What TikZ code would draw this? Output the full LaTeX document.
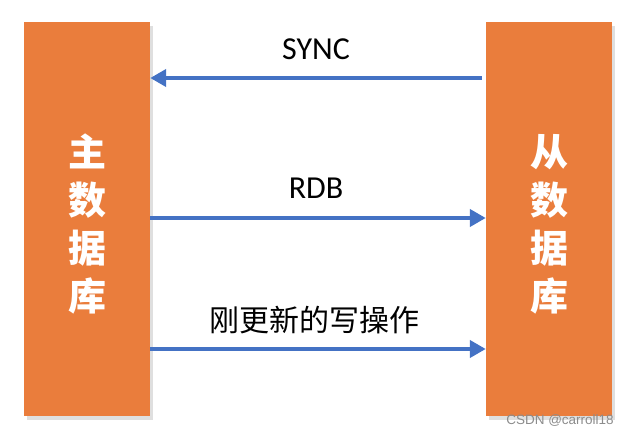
\documentclass[tikz,border=0pt]{standalone}
\usepackage{fontspec}
\setmainfont{Carlito}
\newfontfamily\cjk{Noto Sans CJK SC}
\newfontfamily\wmfont{Liberation Sans}
\usetikzlibrary{positioning,shadows,arrows.meta}
\definecolor{dborange}{RGB}{234,125,60}
\definecolor{linkblue}{RGB}{68,114,196}

\begin{document}
\begin{tikzpicture}[x=1pt,y=-1pt,
							dbbox/.style={fill=dborange, minimum width=126pt, minimum height=394pt, inner sep=0pt,
								drop shadow={shadow xshift=3pt, shadow yshift=-4pt, opacity=0.25}},
							dbtext/.style={text=white, font=\cjk\bfseries\fontsize{38}{48}\selectfont, align=center},
							link/.style={draw=linkblue, line width=4.5pt, -{Triangle[length=16pt,width=17pt]}},
							linklabel/.style={font=\fontsize{32}{38}\selectfont}
						]
						\useasboundingbox (0,0) rectangle (632,436);
						\node[dbbox] (master) at (87,219) {};
						\node[dbbox] (slave) at (549,219) {};
						\node[dbtext] (mastertxt) at (87,224) {主\\数\\据\\库};
						\node[dbtext] (slavetxt) at (549,224) {从\\数\\据\\库};
						% arrow heights
						\coordinate (synclevel) at (317,78);
						\coordinate (rdblevel) at (317,218);
						\coordinate (writelevel) at (317,349);
						\draw[link] ([xshift=-4pt]synclevel -| slave.west) -- (synclevel -| master.east);
						\draw[link] (rdblevel -| master.east) -- (rdblevel -| slave.west);
						\draw[link] (writelevel -| master.east) -- (writelevel -| slave.west);
						\node[linklabel] (synclbl) at (316,49) {SYNC};
						\node[linklabel] (rdblbl) at (316,188) {RDB};
						\node[font=\cjk\fontsize{30}{36}\selectfont] (writelbl) at (314,320) {刚更新的写操作};
						\node[font=\wmfont\fontsize{13.5}{16}\selectfont, text=black!45] (mark) at (560,421) {CSDN @carroll18};
					\end{tikzpicture}
\end{document}
